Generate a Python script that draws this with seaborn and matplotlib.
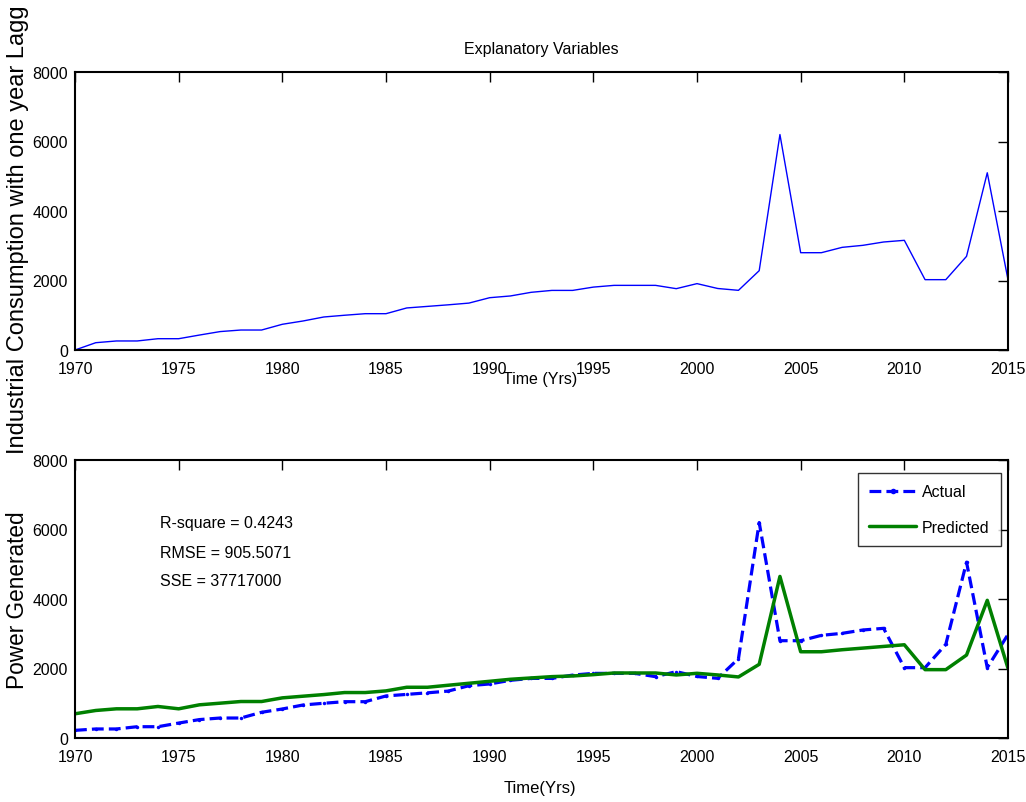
import numpy as np
import pandas as pd
import matplotlib
matplotlib.use("Agg")
import matplotlib.pyplot as plt
import seaborn as sns

years = list(range(1970, 2016))

industrial_lag = [0, 210, 260, 260, 325, 325, 430, 530, 575, 575,
                  740, 835, 950, 1000, 1045, 1045, 1210, 1255, 1300, 1350,
                  1505, 1555, 1660, 1715, 1715, 1810, 1860, 1860, 1860, 1765,
                  1910, 1770, 1717, 2283, 6200, 2800, 2800, 2954, 3012, 3108,
                  3156, 2024, 2024, 2695, 5100, 2024]

actual = [220, 260, 260, 325, 325, 430, 530, 575, 575, 740,
          835, 950, 1000, 1045, 1045, 1210, 1255, 1300, 1350, 1505,
          1555, 1660, 1715, 1715, 1810, 1860, 1860, 1860, 1765, 1910,
          1770, 1717, 2283, 6200, 2800, 2800, 2954, 3012, 3108, 3156,
          2024, 2024, 2695, 5060, 2024, 2978]

predicted = [697, 792, 840, 840, 907, 840, 955, 1002, 1050, 1050,
             1155, 1203, 1250, 1308, 1308, 1356, 1460, 1460, 1518, 1575,
             1632, 1690, 1728, 1766, 1785, 1823, 1871, 1871, 1871, 1814,
             1862, 1814, 1757, 2120, 4650, 2482, 2482, 2540, 2587, 2635,
             2683, 1967, 1967, 2387, 3962, 2005]

xticks = [1970, 1975, 1980, 1985, 1990, 1995, 2000, 2005, 2010, 2015]
yticks = [0, 2000, 4000, 6000, 8000]
stats = ["R-square = 0.4243", "RMSE = 905.5071", "SSE = 37717000"]

sns.set_style("white")
fam = ["Liberation Sans", "DejaVu Sans"]
plt.rcParams["font.family"] = fam
plt.rcParams["text.color"] = "black"
plt.rcParams["axes.labelcolor"] = "black"
plt.rcParams["xtick.color"] = "black"
plt.rcParams["ytick.color"] = "black"

df_top = pd.DataFrame({"year": years, "value": industrial_lag})
df_bot = pd.DataFrame({"year": years, "actual": actual, "predicted": predicted})

fig = plt.figure(figsize=(10.26, 8.03), dpi=100)
W, H = 1026, 803
ax1 = fig.add_axes([75 / W, 1 - 351 / H, 933 / W, 278 / H])
ax2 = fig.add_axes([75 / W, 1 - 739 / H, 933 / W, 278 / H])

sns.lineplot(data=df_top, x="year", y="value", ax=ax1, color="#0000ff", linewidth=1.0)

sns.lineplot(data=df_bot, x="year", y="actual", ax=ax2, color="#0000ff",
             linewidth=2.3, linestyle="--", marker=".", markersize=5,
             markeredgewidth=0, label="Actual")
sns.lineplot(data=df_bot, x="year", y="predicted", ax=ax2, color="#008000",
             linewidth=2.5, label="Predicted")

for ax in (ax1, ax2):
    ax.set_xlim(1970, 2015)
    ax.set_ylim(0, 8000)
    ax.set_xticks(xticks)
    ax.set_yticks(yticks)
    ax.set_xlabel("")
    ax.set_ylabel("")
    ax.tick_params(direction="in", length=7.5, width=1.0, color="black",
                   labelcolor="black", top=True, right=True, labelsize=11.5)
    ax.tick_params(axis="x", pad=8)
    ax.tick_params(axis="y", pad=5)
    for s in ax.spines.values():
        s.set_visible(True)
        s.set_color("black")
        s.set_linewidth(1.5)

ax1.set_title("Explanatory Variables", fontsize=11.5, pad=14, color="black")

fig.text(540 / W, 1 - 380 / H, "Time (Yrs)", ha="center", va="center",
         fontsize=11.5, color="black")
fig.text(540 / W, 1 - 789 / H, "Time(Yrs)", ha="center", va="center",
         fontsize=12, color="black")

fig.text(18 / W, 1 - 230 / H, "Industrial Consumption with one year Lagg",
         rotation=90, ha="center", va="center", fontsize=17, color="black")
fig.text(18 / W, 1 - 600 / H, "Power Generated",
         rotation=90, ha="center", va="center", fontsize=16.3, color="black")

for txt, yy in zip(stats, [0.776, 0.668, 0.568]):
    ax2.text(0.0911, yy, txt, transform=ax2.transAxes, ha="left", va="center",
             fontsize=11.5, color="black")

leg = ax2.legend(loc="upper right", bbox_to_anchor=(0.9925, 0.953),
                 frameon=True, fancybox=False, edgecolor="black",
                 fontsize=11.5, handlelength=2.9, numpoints=1,
                 borderpad=0.7, labelspacing=1.3, handletextpad=0.4,
                 borderaxespad=0.0, markerscale=1.6)
leg.get_frame().set_linewidth(1.0)
for t in leg.get_texts():
    t.set_color("black")

fig.savefig("out.png", dpi=100)
